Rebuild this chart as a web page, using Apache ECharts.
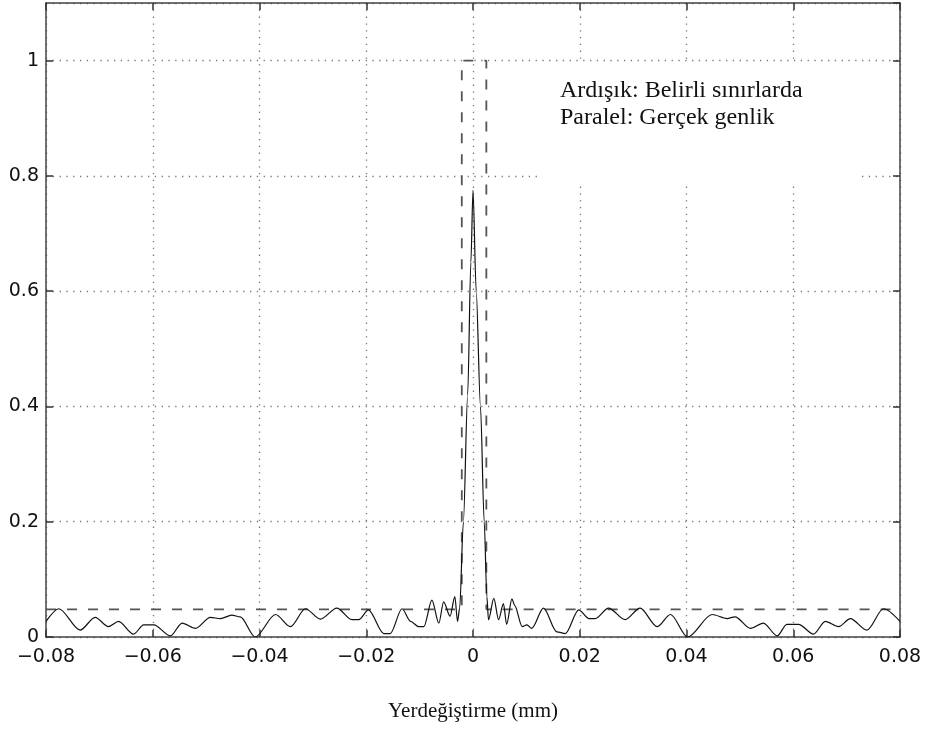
<!DOCTYPE html>
<html>
<head>
<meta charset="utf-8">
<script src="https://cdn.jsdelivr.net/npm/echarts@6/dist/echarts.min.js"></script>
<style>html,body{margin:0;padding:0;background:#fff}#c{width:928px;height:732px}</style>
</head>
<body>
<div id="c"></div>
<script>
// Solid curve (Paralel: Gerçek genlik)
const solidX = [-0.0800,-0.0776,-0.0736,-0.0708,-0.0683,-0.0664,-0.0636,-0.0617,-0.0598,-0.0567,-0.0545,-0.0520,-0.0492,-0.0473,-0.0452,-0.0436,-0.0408,-0.0370,-0.0342,-0.0314,-0.0286,-0.0255,-0.0227,-0.0214,-0.0196,-0.0167,-0.0155,-0.0133,-0.0117,-0.0102,-0.0092,-0.0077,-0.0064,-0.0055,-0.0043,-0.0034,-0.0029,-0.0025,-0.0018,-0.0010,-0.0004,0.0000,0.0006,0.0014,0.0021,0.0026,0.0029,0.0039,0.0048,0.0057,0.0063,0.0073,0.0078,0.0092,0.0101,0.0110,0.0132,0.0157,0.0173,0.0198,0.0217,0.0229,0.0254,0.0285,0.0313,0.0345,0.0370,0.0402,0.0448,0.0476,0.0491,0.0520,0.0544,0.0570,0.0588,0.0610,0.0638,0.0660,0.0685,0.0707,0.0738,0.0769,0.0800];
const solidY = [0.027,0.049,0.012,0.034,0.018,0.027,0.005,0.021,0.021,0.002,0.024,0.015,0.034,0.032,0.038,0.035,0.000,0.039,0.018,0.049,0.031,0.050,0.030,0.030,0.047,0.006,0.006,0.049,0.027,0.018,0.018,0.064,0.024,0.061,0.036,0.070,0.027,0.050,0.200,0.420,0.650,0.775,0.600,0.400,0.200,0.070,0.030,0.067,0.030,0.058,0.022,0.066,0.055,0.018,0.021,0.015,0.050,0.009,0.006,0.047,0.032,0.032,0.050,0.030,0.050,0.018,0.039,0.000,0.039,0.032,0.035,0.015,0.024,0.002,0.022,0.022,0.005,0.027,0.018,0.032,0.012,0.049,0.027];
// Dashed curve (Ardışık: Belirli sınırlarda)
const dashX = [-0.08,-0.0021,-0.0021,0.0025,0.0025,0.08];
const dashY = [0.048,0.048,1.0,1.0,0.048,0.048];
const xAxisTitle = 'Yerdeğiştirme (mm)';
const noteLines = ['Ardışık: Belirli sınırlarda','Paralel: Gerçek genlik'];

const fmtX = v => { const s = Math.abs(v) < 1e-9 ? '0' : String(+v.toFixed(2)); return s.replace('-', '\u2212'); };
const fmtY = v => String(+v.toFixed(1));

const chart = echarts.init(document.getElementById('c'), null, {renderer:'canvas'});
const axisLineStyle = {color:'#444', width:1.5};
const gridStyle = {color:'#777', width:1.3, type:[1.3,5.5]};
const tickStyle = {color:'#333', width:1.5};
const labelFont = {fontFamily:'DejaVu Sans', fontSize:19, color:'#111'};
chart.setOption({
  animation:false,
  backgroundColor:'#fff',
  grid:{left:46, right:28, top:3, bottom:95, containLabel:false},
  xAxis:[{
    type:'value', min:-0.08, max:0.08, interval:0.02, position:'bottom',
    name:xAxisTitle, nameLocation:'middle', nameGap:64,
    nameTextStyle:{fontFamily:'Liberation Serif', fontSize:21, color:'#111'},
    axisLine:{show:true, onZero:false, lineStyle:axisLineStyle},
    axisTick:{show:true, inside:true, length:7, lineStyle:tickStyle},
    axisLabel:Object.assign({margin:11, formatter:fmtX}, labelFont),
    splitLine:{show:true, lineStyle:gridStyle}
  },{
    type:'value', min:-0.08, max:0.08, interval:0.02, position:'top',
    axisLine:{show:true, onZero:false, lineStyle:axisLineStyle},
    axisTick:{show:true, inside:true, length:7, lineStyle:tickStyle},
    axisLabel:{show:false}, splitLine:{show:false}
  }],
  yAxis:[{
    type:'value', min:0, max:1.1, interval:0.2, position:'left',
    axisLine:{show:true, onZero:false, lineStyle:axisLineStyle},
    axisTick:{show:true, inside:true, length:7, lineStyle:tickStyle},
    axisLabel:Object.assign({margin:7, formatter:fmtY, showMaxLabel:false}, labelFont),
    splitLine:{show:true, lineStyle:gridStyle}
  },{
    type:'value', min:0, max:1.1, interval:0.2, position:'right',
    axisLine:{show:true, onZero:false, lineStyle:axisLineStyle},
    axisTick:{show:true, inside:true, length:7, lineStyle:tickStyle},
    axisLabel:{show:false}, splitLine:{show:false}
  }],
  series:[{
    type:'line', xAxisIndex:0, yAxisIndex:0, showSymbol:false, symbol:'none',
    data:dashX.map((x,i)=>[x,dashY[i]]),
    lineStyle:{color:'#555', width:1.8, type:[10,11]}, z:3
  },{
    type:'line', xAxisIndex:0, yAxisIndex:0, showSymbol:false, symbol:'none',
    smooth:0.3, smoothMonotone:'x',
    data:solidX.map((x,i)=>[x,solidY[i]]),
    lineStyle:{color:'#111', width:1.2}, z:4
  }],
  graphic:[
    {type:'rect', z:100, shape:{x:538, y:64, width:320, height:118}, style:{fill:'#fff'}},
    {type:'text', z:101, x:560, y:77, style:{text:noteLines.join('\n'), fontFamily:'Liberation Serif', fontSize:24, lineHeight:27, fill:'#111'}}
  ]
});
</script>
</body>
</html>
